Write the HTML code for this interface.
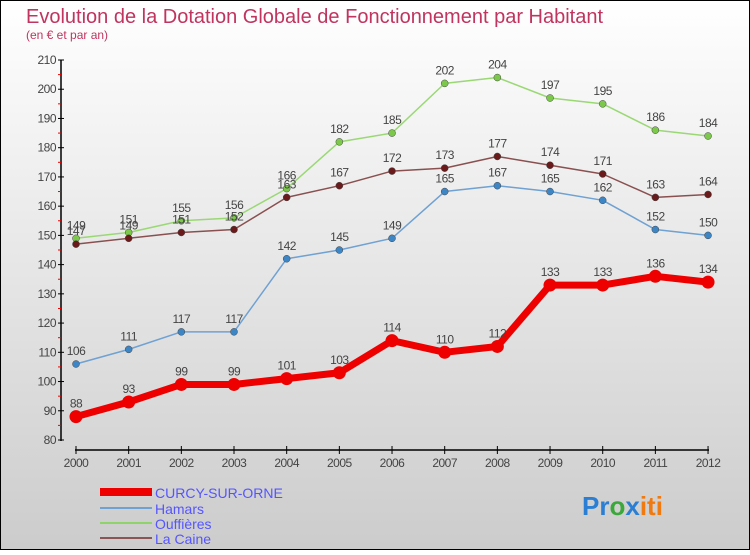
<!DOCTYPE html>
<html><head><meta charset="utf-8"><style>
body{margin:0}
#c{width:750px;height:550px;position:relative;font-family:"Liberation Sans",sans-serif}
</style></head><body>
<div id="c">
<svg id="s" width="750" height="550" xmlns="http://www.w3.org/2000/svg">
<defs><linearGradient id="bg" x1="0" y1="0" x2="0" y2="1"><stop offset="0" stop-color="#ffffff"/><stop offset="1" stop-color="#cccccc"/></linearGradient></defs>
<rect x="0.5" y="0.5" width="749" height="549" fill="url(#bg)" stroke="#000"/>
<text x="26" y="23" font-size="20" fill="#c0345f">Evolution de la Dotation Globale de Fonctionnement par Habitant</text>
<text x="26" y="39" font-size="12" fill="#c0345f">(en € et par an)</text>
<g id="axes"></g><g id="series"></g>
<g>
<rect x="100" y="488" width="52" height="8" fill="#e00"/>
<text x="155" y="498" font-size="14" fill="#5555ff">CURCY-SUR-ORNE</text>
<line x1="100" y1="508" x2="152" y2="508" stroke="#6fa1d2" stroke-width="2"/>
<text x="155" y="514" font-size="14" fill="#5555ff">Hamars</text>
<line x1="100" y1="523" x2="152" y2="523" stroke="#8fd46a" stroke-width="2"/>
<text x="155" y="529" font-size="14" fill="#5555ff">Ouffières</text>
<line x1="100" y1="538" x2="152" y2="538" stroke="#8a5555" stroke-width="2"/>
<text x="155" y="544" font-size="14" fill="#5555ff">La Caine</text>
</g>
<text x="582" y="515" font-size="26" font-weight="bold"><tspan fill="#2a7fd4">Pr</tspan><tspan fill="#3aa83a">o</tspan><tspan fill="#2a7fd4">x</tspan><tspan fill="#f07a10">iti</tspan></text>
</svg></div>
<script>
const years=[2000,2001,2002,2003,2004,2005,2006,2007,2008,2009,2010,2011,2012];
const yTicks=[80,90,100,110,120,130,140,150,160,170,180,190,200,210];
const curcy=[88,93,99,99,101,103,114,110,112,133,133,136,134];
const hamars=[106,111,117,117,142,145,149,165,167,165,162,152,150];
const ouffieres=[149,151,155,156,166,182,185,202,204,197,195,186,184];
const laCaine=[147,149,151,152,163,167,172,173,177,174,171,163,164];
const NS="http://www.w3.org/2000/svg";
const xS=i=>76+i*52.67;
const yS=v=>440-(v-80)*380/130;
function mk(t,a,p){const e=document.createElementNS(NS,t);for(const k in a)e.setAttribute(k,a[k]);p.appendChild(e);return e;}
const ax=document.getElementById('axes');
let e=mk('line',{x1:61,y1:60,x2:61,y2:441,stroke:'#000','stroke-width':1.5},ax);

e=mk('line',{x1:75,y1:450,x2:709,y2:450,stroke:'#000','stroke-width':1.5},ax);

yTicks.forEach((v,i)=>{
 mk('line',{x1:58,y1:yS(v),x2:64,y2:yS(v),stroke:'#000'},ax);
 if(i<yTicks.length-1)mk('line',{x1:58,y1:yS(v+5),x2:61,y2:yS(v+5),stroke:'#e00'},ax);
 const t=mk('text',{x:56,y:yS(v)+4,'font-size':12,'text-anchor':'end',fill:'#444','letter-spacing':'-0.5'},ax);
 t.textContent=v;
 
});
years.forEach((y,i)=>{
 mk('line',{x1:xS(i),y1:446,x2:xS(i),y2:454,stroke:'#000'},ax);
 const t=mk('text',{x:xS(i),y:467,'font-size':12,'text-anchor':'middle',fill:'#444','letter-spacing':'-0.5'},ax);
 t.textContent=y;
 
});
const sg=document.getElementById('series');
function series(vals,name,col,dot,w,r,fs){
 const g=mk('g',{},sg);
 
 const l=mk('polyline',{points:vals.map((v,i)=>xS(i)+','+yS(v)).join(' '),fill:'none',stroke:col,'stroke-width':w,'stroke-linejoin':'round'},g);
 
 vals.forEach((v,i)=>{
  const c=mk('circle',{cx:xS(i),cy:yS(v),r:r,fill:dot,stroke:r>4?'none':'#444','stroke-width':0.5},g);
  
  const t=mk('text',{x:xS(i),y:yS(v)-9,'font-size':fs,'text-anchor':'middle',fill:'#444','letter-spacing':'-0.5'},g);
  t.textContent=v;
  
 });
}
series(ouffieres,'ouffieres','#9ad874','#7cc84a',1.5,3.5,12);
series(laCaine,'la-caine','#8a5050','#6a1a1a',1.5,3.5,12);
series(hamars,'hamars','#6fa1d2','#3d86c6',1.5,3.5,12);
series(curcy,'curcy','#ee0000','#ee0000',7,6.5,12);
</script>
</body></html>
